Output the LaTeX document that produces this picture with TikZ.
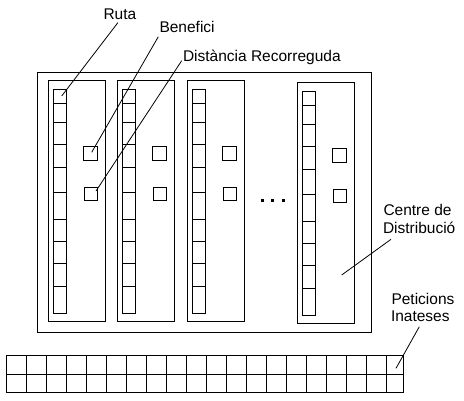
\documentclass[tikz,border=0pt]{standalone}
\usepackage{fontspec}
\setmainfont{Liberation Sans}
\begin{document}
\begin{tikzpicture}[x=1pt,y=-1pt,line width=1pt,
  lbl/.style={font=\fontsize{15.5}{18}\selectfont, inner sep=0pt, anchor=base west},
  leader/.style={line width=0.8pt}]
\useasboundingbox (0,0) rectangle (464,400);
% centre de distribucio
\draw (37.3,72.3) rectangle (371.7,332.3);
\foreach \dx/\dy in {0/0,69/0,139/0,249/2} {
 \begin{scope}[shift={(\dx,\dy)}]
  \draw (48.3,80.7) rectangle (105.7,321.3);
  \draw (53.3,89.3) rectangle (66.7,313.3);
  \foreach \o in {14,33,55,78,103,130,152,174,197} \draw (53.3,89.3+\o) -- (66.7,89.3+\o);
  \draw (83.3,146.3) rectangle (97.7,160.3);
  \draw (84.3,187.3) rectangle (97.7,200.3);
 \end{scope}
}
% dots
\foreach \x in {261,271,281.5} \fill (\x,199) rectangle (\x+3,202);
% peticions grid
\draw (6.7,355.3) rectangle (403.7,392.3);
\draw (6.7,374.3) -- (403.7,374.3);
\foreach \k in {1,...,19} \draw (6.7+20*\k,355.3) -- (6.7+20*\k,392.3);
% labels
\node[lbl] (ruta) at (103,19) {Ruta};
\node[lbl] (ben) at (159,32) {Benefici};
\node[lbl] (dist) at (182.5,61) {Distància Recorreguda};
\node[lbl] (centre1) at (383,215) {Centre de};
\node[lbl] (centre2) at (382.5,233) {Distribució};
\node[lbl] (pet1) at (391,304) {Peticions};
\node[lbl] (pet2) at (390.5,321.7) {Inateses};
% leader ends
\coordinate (rutaend) at (61.7,96);
\coordinate (benend) at (91.7,152.3);
\coordinate (distend) at (96,191);
\coordinate (centreend) at (341.7,275);
\coordinate (petend) at (396,368.3);
\draw[leader] ([xshift=-2pt,yshift=-3pt]ruta.south) -- (rutaend);
\draw[leader] ([xshift=-0.7pt,yshift=-4.7pt]ben.base west) -- (benend);
\draw[leader] ([xshift=-0.8pt,yshift=0.3pt]dist.base west) -- (distend);
\draw[leader] ([xshift=8.5pt,yshift=-6.3pt]centre2.base west) -- (centreend);
\draw[leader] ([xshift=28.8pt,yshift=-5pt]pet2.base west) -- (petend);
\end{tikzpicture}
\end{document}
